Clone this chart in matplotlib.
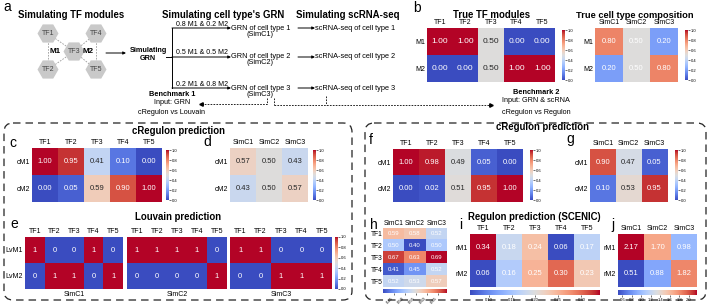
import numpy as np
import matplotlib
matplotlib.use('Agg')
import matplotlib.pyplot as plt
from matplotlib.patches import RegularPolygon, FancyBboxPatch
from matplotlib.colors import to_rgba

plt.rcParams['font.family'] = ['Liberation Sans', 'DejaVu Sans']

# ---- data ----
tfs = ['TF1', 'TF2', 'TF3', 'TF4', 'TF5']
sims = ['SimC1', 'SimC2', 'SimC3']

true_mod = [[1.00, 1.00, 0.50, 0.00, 0.00],
            [0.00, 0.00, 0.50, 1.00, 1.00]]
true_comp = [[0.80, 0.50, 0.20],
             [0.20, 0.50, 0.80]]

creg_c = [[1.00, 0.95, 0.41, 0.10, 0.00],
          [0.00, 0.05, 0.59, 0.90, 1.00]]
creg_d = [[0.57, 0.50, 0.43],
          [0.43, 0.50, 0.57]]

louv_c1 = [[1, 0, 0, 1, 0], [0, 1, 1, 0, 1]]
louv_c2 = [[1, 1, 1, 1, 0], [0, 0, 0, 0, 1]]
louv_c3 = [[1, 1, 0, 0, 0], [0, 0, 1, 1, 1]]

creg_f = [[1.00, 0.98, 0.49, 0.05, 0.00],
          [0.00, 0.02, 0.51, 0.95, 1.00]]
creg_g = [[0.90, 0.47, 0.05],
          [0.10, 0.53, 0.95]]

scenic_h = [[0.59, 0.58, 0.52],
            [0.50, 0.40, 0.50],
            [0.67, 0.63, 0.69],
            [0.41, 0.45, 0.52],
            [0.52, 0.53, 0.57]]
scenic_i = [[0.34, 0.18, 0.24, 0.06, 0.17],
            [0.06, 0.16, 0.25, 0.30, 0.23]]
scenic_j = [[2.17, 1.70, 0.98],
            [0.51, 0.88, 1.82]]

W, H = 709, 308
fig = plt.figure(figsize=(W / 100, H / 100), dpi=100)
cmap = plt.get_cmap('coolwarm')


def px_axes(x0, y0, x1, y1):
    return fig.add_axes([x0 / W, 1 - y1 / H, (x1 - x0) / W, (y1 - y0) / H])


bg = px_axes(0, 0, W, H)
bg.set_xlim(0, W)
bg.set_ylim(H, 0)
bg.axis('off')


def lum(c):
    rgb = np.array(to_rgba(c)[:3])
    rgb = np.where(rgb <= .03928, rgb / 12.92, ((rgb + .055) / 1.055) ** 2.4)
    return rgb.dot([.2126, .7152, .0722])


def heat(box, vals, cols, rows, vmin=0, vmax=1, fmt='{:.2f}', auto_txt=True,
         fs=5.5, lab=5):
    ax = px_axes(*box)
    arr = np.array(vals, dtype=float)
    im = ax.imshow(arr, cmap=cmap, vmin=vmin, vmax=vmax, aspect='auto',
                   interpolation='nearest')
    ax.xaxis.tick_top()
    ax.set_xticks(range(arr.shape[1]), cols)
    ax.set_yticks(range(arr.shape[0]), rows)
    ax.tick_params(length=0, labelsize=lab, pad=1.5)
    for s in ax.spines.values():
        s.set_visible(False)
    for i in range(arr.shape[0]):
        for j in range(arr.shape[1]):
            c = 'white'
            if auto_txt and lum(cmap((arr[i, j] - vmin) / (vmax - vmin))) > .408:
                c = '#262626'
            ax.text(j, i, fmt.format(vals[i][j]), ha='center', va='center',
                    color=c, fontsize=fs)
    return ax, im


def cbar(im, box, ticks, labels, orient='vertical', rot=0):
    cax = px_axes(*box)
    cb = fig.colorbar(im, cax=cax, orientation=orient)
    cb.outline.set_visible(False)
    cb.set_ticks(ticks)
    cb.set_ticklabels(labels)
    cax.tick_params(labelsize=3, length=1.5, width=0.4, pad=0.8)
    if rot:
        for t in cax.get_xticklabels():
            t.set_rotation(rot)
            t.set_ha('right')
            t.set_va('top')
    return cb


t01 = [0, .2, .4, .6, .8, 1.0]
l01 = ['0.0', '0.2', '0.4', '0.6', '0.8', '1.0']

# ---------------- panel a: schematic ----------------
bold = dict(fontweight='bold', ha='center', va='center')
bg.text(3, 7, 'a', fontsize=10, va='center')
bg.text(71, 15, 'Simulating TF modules', fontsize=6.9, **bold)
bg.text(223, 15, "Simulating cell type's GRN", fontsize=6.9, **bold)
bg.text(348, 15, 'Simulating scRNA-seq', fontsize=6.9, **bold)

hexes = {'TF1': (48, 33.5), 'TF4': (96, 33.5), 'TF3': (74, 51.5),
         'TF2': (48, 69.5), 'TF5': (96, 69.5)}
for a, b in [('TF1', 'TF2'), ('TF4', 'TF5'), ('TF1', 'TF3'), ('TF2', 'TF3'),
             ('TF4', 'TF3'), ('TF5', 'TF3')]:
    bg.plot([hexes[a][0], hexes[b][0]], [hexes[a][1], hexes[b][1]],
            color='#9a9a9a', lw=0.6, ls=(0, (2, 1.5)), zorder=1)
for name, (x, y) in hexes.items():
    bg.add_patch(RegularPolygon((x, y), 6, radius=10.5, orientation=np.pi / 6,
                                facecolor='#c9c9c9', edgecolor='none', zorder=2))
    bg.text(x, y, name, fontsize=5, color='#444444', ha='center', va='center',
            zorder=3)
bg.text(55, 51.5, 'M1', fontsize=5.8, fontweight='bold', ha='center', va='center', zorder=3)
bg.text(88, 51.5, 'M2', fontsize=5.8, fontweight='bold', ha='center', va='center', zorder=3)

arr_kw = dict(arrowstyle='-|>', lw=0.7, color='black', mutation_scale=4,
              shrinkA=0, shrinkB=0)
bg.annotate('', xy=(126, 53), xytext=(106, 53), arrowprops=arr_kw)
bg.text(148, 50, 'Simulating', fontsize=5.2, **bold)
bg.text(148, 58, 'GRN', fontsize=5.2, **bold)

bg.plot([166, 172], [57, 57], color='black', lw=0.7)
bg.plot([172, 172], [28, 88], color='black', lw=0.7)
mixes = ['0.8 M1 & 0.2 M2', '0.5 M1 & 0.5 M2', '0.2 M1 & 0.8 M2']
for k, y in enumerate([28, 57, 88]):
    bg.annotate('', xy=(231, y), xytext=(172, y), arrowprops=arr_kw)
    bg.text(202, y - 4, mixes[k], fontsize=5.0, ha='center', va='center')
    bg.text(231, y, f'GRN of cell type {k + 1}', fontsize=5.3, ha='left', va='center')
    bg.text(260, y + 6, f'(SimC{k + 1})', fontsize=5.3, ha='center', va='center')
    bg.annotate('', xy=(315, y), xytext=(298, y), arrowprops=arr_kw)
    bg.text(315, y, f'scRNA-seq of cell type {k + 1}', fontsize=5.3, ha='left',
            va='center')

dash = dict(color='black', lw=0.6, ls=(0, (2, 1.5)))
bg.plot([267, 267, 202], [98, 104, 104], **dash)
bg.plot([201], [104], marker='<', ms=2.5, color='black')
bg.plot([274, 274], [98, 105], **dash)
bg.plot([326, 326], [96, 105], **dash)
bg.plot([274, 490], [105, 105], **dash)
bg.plot([491], [105], marker='>', ms=2.5, color='black')
bg.text(172, 95, 'Benchmark 1', fontsize=5.3, **bold)
bg.text(172, 103, 'Input: GRN', fontsize=5.2, ha='center', va='center')
bg.text(172, 112, 'cRegulon vs Louvain', fontsize=5.2, ha='center', va='center')
bg.text(536, 92, 'Benchmark 2', fontsize=5.3, **bold)
bg.text(536, 101, 'Input: GRN & scRNA', fontsize=5.2, ha='center', va='center')
bg.text(536, 112, 'cRegulon vs Regulon', fontsize=5.2, ha='center', va='center')

# ---------------- panel b ----------------
bg.text(413, 8, 'b', fontsize=10, va='center')
bg.text(492, 15, 'True TF modules', fontsize=6.9, **bold)
bg.text(635, 15, 'True cell type composition', fontsize=6.7, **bold)
ax, im = heat((427, 28, 555, 82), true_mod, tfs, ['M1', 'M2'], fs=6)
cbar(im, (562, 30, 565, 80), t01, l01)
ax, im = heat((595, 28, 678, 82), true_comp, sims, ['M1', 'M2'], auto_txt=False, fs=5.5)
cbar(im, (685, 30, 688, 80), t01, l01)

# ---------------- dashed boxes ----------------
for x0, x1 in [(4, 352), (365, 706)]:
    bg.add_patch(FancyBboxPatch((x0, 123), x1 - x0, 177,
                                boxstyle='round,pad=0,rounding_size=9',
                                fill=False, lw=0.9, ls=(0, (6, 4)), ec='#222222'))

# ---------------- panels c, d ----------------
bg.text(178, 131, 'cRegulon prediction', fontsize=6.9, **bold)
bg.text(9, 143, 'c', fontsize=10, va='center')
ax, im = heat((32, 148, 162, 202), creg_c, tfs, ['cM1', 'cM2'])
cbar(im, (166, 150, 169, 200), t01, l01)
bg.text(203, 142, 'd', fontsize=10, va='center')
ax, im = heat((230, 148, 308, 202), creg_d, sims, ['cM1', 'cM2'])
cbar(im, (313, 150, 316, 200), t01, l01)

# ---------------- panel e ----------------
bg.text(178, 217, 'Louvain prediction', fontsize=6.9, **bold)
bg.text(10, 224, 'e', fontsize=10, va='center')
louv = [louv_c1, louv_c2, louv_c3]
for k, (x0, x1) in enumerate([(25, 123), (127, 227), (230, 332)]):
    ax, im = heat((x0, 237, x1, 289), louv[k], tfs,
                  ['LvM1', 'LvM2'] if k == 0 else [], fmt='{:d}', auto_txt=False,
                  fs=5.5)
    bg.text((x0 + x1) / 2, 294.5, sims[k], fontsize=5, ha='center', va='center')
cbar(im, (335, 237, 338, 289), t01, l01)

# ---------------- panels f, g ----------------
bg.text(543, 127, 'cRegulon prediction', fontsize=6.9, **bold)
bg.text(369, 140, 'f', fontsize=10, va='center')
ax, im = heat((393, 149, 523, 202), creg_f, tfs, ['cM1', 'cM2'])
cbar(im, (530, 150, 533, 200), t01, l01)
bg.text(566, 139, 'g', fontsize=10, va='center')
ax, im = heat((590, 149, 667, 202), creg_g, sims, ['cM1', 'cM2'])
cbar(im, (675, 150, 678, 200), t01, l01)

# ---------------- panels h, i, j ----------------
bg.text(370, 225, 'h', fontsize=10, va='center')
ax, im = heat((383, 228, 447, 287), scenic_h, sims, tfs, vmin=0.40, vmax=0.69,
              auto_txt=False, fs=4.3, lab=4.8)
ax.tick_params(pad=0.5)
cbar(im, (383, 289, 447, 293), [.45, .50, .55, .60, .65],
     ['0.45', '0.50', '0.55', '0.60', '0.65'], orient='horizontal', rot=45)

bg.text(534, 217, 'Regulon prediction (SCENIC)', fontsize=6.9, **bold)
bg.text(459, 225, 'i', fontsize=10, va='center')
ax, im = heat((470, 234, 600, 287), scenic_i, tfs, ['rM1', 'rM2'], vmin=0.06,
              vmax=0.34, auto_txt=False)
cbar(im, (470, 290, 600, 295), [.10, .15, .20, .25, .30],
     ['0.10', '0.15', '0.20', '0.25', '0.30'], orient='horizontal')

bg.text(611, 225, 'j', fontsize=10, va='center')
ax, im = heat((618, 234, 697, 287), scenic_j, sims, ['rM1', 'rM2'], vmin=0.51,
              vmax=2.17, auto_txt=False)
jt = [0.6, 0.8, 1.0, 1.2, 1.4, 1.6, 1.8, 2.0]
cbar(im, (618, 290, 697, 295), jt, [f'{v:.1f}' for v in jt], orient='horizontal')

fig.savefig('out.png', dpi=100)
